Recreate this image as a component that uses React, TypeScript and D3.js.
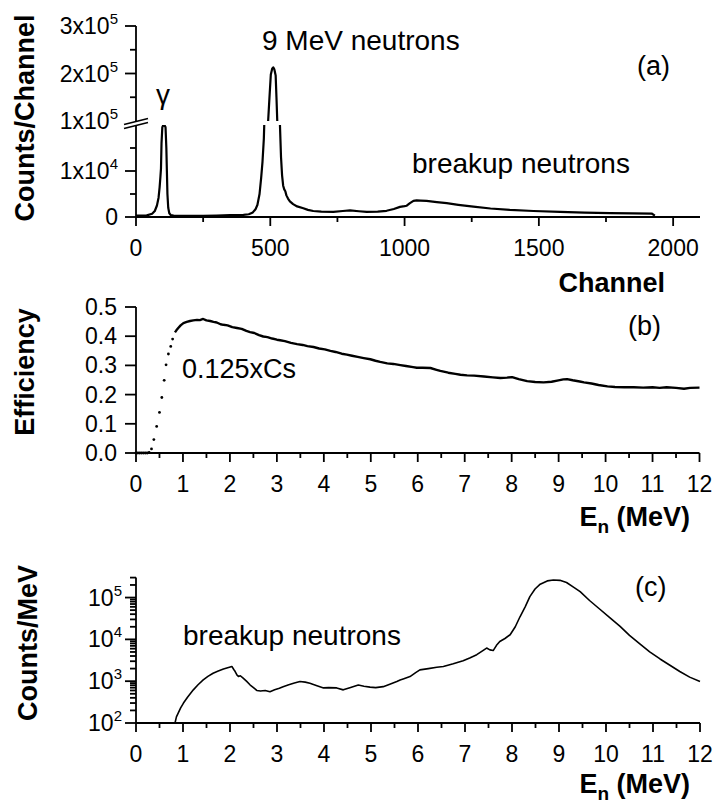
import React from 'react';
import * as d3 from 'd3';

const FONT = "'Liberation Sans', Arial, Helvetica, sans-serif";

// ---------- Panel (a): counts per channel ----------
const channelA = [0, 20, 40, 60, 70, 78, 84, 88, 91, 93, 95, 98, 102, 106, 110, 113, 115, 117, 120, 124, 130, 140, 170, 200, 250, 300, 350, 400, 420, 435, 445, 452, 460, 466, 471, 476, 480, 486, 492, 497, 502, 507, 511, 515, 520, 523, 526, 530, 533, 536, 540, 544, 548, 552, 556, 560, 566, 573, 585, 600, 623, 640, 660, 690, 735, 770, 797, 830, 859, 900, 933, 960, 983, 1000, 1008, 1020, 1033, 1045, 1060, 1082, 1120, 1157, 1200, 1256, 1320, 1392, 1480, 1579, 1670, 1765, 1850, 1920, 1932];
const countsA = [300, 300, 350, 700, 1300, 2500, 4200, 6500, 8800, 10500, 16000, 19500, 20000, 20000, 19500, 15000, 10000, 5000, 2000, 800, 400, 300, 250, 250, 250, 300, 400, 450, 600, 1000, 1700, 2600, 5000, 8500, 12000, 17000, 25000, 60000, 100000, 150000, 198000, 210000, 213000, 209000, 196000, 150000, 100000, 60000, 30000, 20000, 13000, 9000, 6800, 6000, 5600, 4700, 4000, 3400, 2800, 2300, 1900, 1550, 1300, 1150, 1100, 1300, 1450, 1250, 1100, 1150, 1350, 1750, 2200, 2350, 2450, 3000, 3500, 3600, 3550, 3500, 3250, 3000, 2650, 2250, 1850, 1550, 1300, 1100, 950, 850, 800, 750, 300];
const channelTicks = [0, 500, 1000, 1500, 2000];
const channelMinor = [250, 750, 1250, 1750];
const countsTicksLow = [0, 10000];
const countsTicksHigh = [100000, 200000, 300000];
const countsMinorLow = [5000, 15000];
const countsMinorHigh = [150000, 250000];
const countsLabelBase = ['0', '1x10', '1x10', '2x10', '3x10'];
const countsLabelSup = ['', '4', '5', '5', '5'];

// ---------- Panel (b): efficiency ----------
const energySparseB = [0.0, 0.04, 0.08, 0.12, 0.16, 0.2, 0.24, 0.28, 0.33, 0.38, 0.44, 0.5, 0.55, 0.6, 0.64, 0.69, 0.74, 0.78];
const effSparseB = [0, 0, 0, 0, 0, 0, 0, 0.002, 0.014, 0.046, 0.091, 0.139, 0.19, 0.249, 0.302, 0.339, 0.365, 0.39];
const energyB = [0.83, 0.86, 0.9, 0.95, 1.01, 1.08, 1.15, 1.22, 1.3, 1.36, 1.43, 1.5, 1.58, 1.65, 1.72, 1.8, 1.86, 1.95, 2.05, 2.15, 2.25, 2.35, 2.43, 2.52, 2.62, 2.71, 2.8, 2.9, 3.0, 3.07, 3.17, 3.3, 3.43, 3.55, 3.65, 3.78, 3.9, 4.02, 4.14, 4.25, 4.38, 4.49, 4.6, 4.72, 4.85, 4.99, 5.1, 5.2, 5.35, 5.48, 5.63, 5.75, 5.9, 5.98, 6.1, 6.27, 6.4, 6.48, 6.65, 6.8, 6.91, 7.05, 7.2, 7.41, 7.6, 7.76, 7.9, 8.01, 8.15, 8.33, 8.5, 8.68, 8.85, 8.97, 9.1, 9.18, 9.3, 9.45, 9.54, 9.7, 9.85, 10.04, 10.2, 10.4, 10.6, 10.8, 11.0, 11.15, 11.3, 11.5, 11.67, 11.8, 12.0];
const effB = [0.413, 0.42, 0.428, 0.437, 0.445, 0.449, 0.452, 0.454, 0.456, 0.455, 0.459, 0.454, 0.452, 0.449, 0.447, 0.441, 0.439, 0.437, 0.431, 0.428, 0.425, 0.418, 0.414, 0.411, 0.404, 0.399, 0.397, 0.392, 0.388, 0.386, 0.383, 0.377, 0.373, 0.37, 0.366, 0.363, 0.358, 0.355, 0.35, 0.346, 0.34, 0.337, 0.333, 0.329, 0.325, 0.321, 0.316, 0.312, 0.307, 0.305, 0.301, 0.298, 0.294, 0.292, 0.292, 0.291, 0.285, 0.281, 0.275, 0.271, 0.268, 0.266, 0.265, 0.262, 0.259, 0.257, 0.258, 0.26, 0.253, 0.246, 0.243, 0.242, 0.244, 0.248, 0.252, 0.253, 0.249, 0.245, 0.242, 0.238, 0.233, 0.228, 0.226, 0.225, 0.225, 0.224, 0.225, 0.223, 0.225, 0.223, 0.22, 0.223, 0.224];
const effTicks = [0, 0.1, 0.2, 0.3, 0.4, 0.5];
const energyTicks = [0, 1, 2, 3, 4, 5, 6, 7, 8, 9, 10, 11, 12];
const energyMinor = [0.5, 1.5, 2.5, 3.5, 4.5, 5.5, 6.5, 7.5, 8.5, 9.5, 10.5, 11.5];

// ---------- Panel (c): counts per MeV ----------
const energyC = [0.83, 0.86, 0.9, 0.95, 1.01, 1.1, 1.22, 1.32, 1.43, 1.53, 1.64, 1.75, 1.86, 1.95, 2.04, 2.08, 2.11, 2.15, 2.18, 2.22, 2.28, 2.35, 2.43, 2.5, 2.57, 2.65, 2.75, 2.85, 2.95, 3.05, 3.13, 3.25, 3.37, 3.49, 3.6, 3.7, 3.85, 3.99, 4.1, 4.27, 4.41, 4.55, 4.73, 4.85, 4.98, 5.1, 5.26, 5.4, 5.55, 5.62, 5.7, 5.83, 5.95, 6.04, 6.22, 6.4, 6.54, 6.75, 6.96, 7.1, 7.25, 7.38, 7.46, 7.53, 7.6, 7.67, 7.74, 7.85, 7.96, 8.07, 8.17, 8.28, 8.38, 8.49, 8.6, 8.75, 8.88, 9.02, 9.16, 9.3, 9.45, 9.65, 9.87, 10.08, 10.3, 10.5, 10.72, 10.93, 11.15, 11.36, 11.57, 11.78, 12.0];
const countsC = [100, 140, 175, 230, 300, 420, 620, 820, 1070, 1300, 1550, 1750, 1950, 2100, 2250, 1900, 1700, 1400, 1300, 1350, 1180, 1000, 810, 700, 600, 580, 600, 560, 620, 680, 740, 820, 900, 980, 950, 890, 780, 690, 700, 690, 620, 700, 810, 760, 720, 700, 740, 850, 980, 1070, 1150, 1290, 1600, 1860, 2000, 2150, 2240, 2600, 3100, 3600, 4300, 5400, 6200, 5600, 5400, 7200, 8900, 10500, 12900, 20000, 34700, 60000, 105000, 160000, 209000, 250000, 263000, 258000, 229000, 180000, 138000, 85000, 52500, 33000, 20400, 12500, 7800, 5000, 3400, 2400, 1700, 1250, 980];
const logTicks = [100, 1000, 10000, 100000];
const logLabelSup = ['2', '3', '4', '5'];

export default function App() {
  // scales
  const xA = d3.scaleLinear().domain([0, 2100]).range([136, 700]);
  const yALow = d3.scaleLinear().domain([0, 20000]).range([217, 125]);
  const yAHigh = d3.scaleLinear().domain([100000, 300000]).range([121, 26]);
  const xB = d3.scaleLinear().domain([0, 12]).range([136, 699.5]);
  const yB = d3.scaleLinear().domain([0, 0.5]).range([453, 307]);
  const xC = d3.scaleLinear().domain([0, 12]).range([136, 700]);
  const yC = d3.scaleLog().domain([100, 300000]).range([723, 577.6]);

  const idxA = channelA.map((_, i) => i);
  const lineALow = d3.line<number>().x(i => xA(channelA[i])).y(i => yALow(countsA[i]));
  const lineAHigh = d3.line<number>().x(i => xA(channelA[i])).y(i => yAHigh(countsA[i]));
  const lineB = d3.line<number>().x(i => xB(energyB[i])).y(i => yB(effB[i]));
  const lineC = d3.line<number>().x(i => xC(energyC[i])).y(i => yC(countsC[i]));

  const axisStroke = 1.8;
  const tickFont = 23;
  const supFont = 15;
  const annFont = 28;
  const titleFont = 27;

  const xAxis = (scale: any, y0: number, major: number[], minor: number[], x1: number, labels: string[]) => (
    <g>
      <line x1={136} x2={x1} y1={y0} y2={y0} stroke="#000" strokeWidth={axisStroke} />
      {major.map((t, i) => (
        <g key={'M' + i}>
          <line x1={scale(t)} x2={scale(t)} y1={y0} y2={y0 + 9} stroke="#000" strokeWidth={axisStroke} />
          <text x={scale(t)} y={y0 + 39} textAnchor="middle" fontSize={tickFont}>{labels[i]}</text>
        </g>
      ))}
      {minor.map((t, i) => (
        <line key={'m' + i} x1={scale(t)} x2={scale(t)} y1={y0} y2={y0 + 5} stroke="#000" strokeWidth={axisStroke} />
      ))}
    </g>
  );

  const yTick = (y: number, len: number, key: string) => (
    <line key={key} x1={136 - len} x2={136} y1={y} y2={y} stroke="#000" strokeWidth={axisStroke} />
  );

  const aLabelY = [yALow(0), yALow(10000), yAHigh(100000), yAHigh(200000), yAHigh(300000)];

  const logMinor: number[] = [];
  logTicks.forEach(d => {
    for (let m = 2; m <= 9; m++) {
      if (m * d <= 300000) logMinor.push(m * d);
    }
  });

  return (
    <svg width={717} height={806} style={{ position: 'absolute', left: 0, top: 0, background: '#fff' }} fontFamily={FONT}>
      <rect x={0} y={0} width={717} height={806} fill="#fff" />
      <defs>
        <clipPath id="clipLow"><rect x={130} y={125} width={590} height={110} /></clipPath>
        <clipPath id="clipHigh"><rect x={130} y={0} width={590} height={121} /></clipPath>
      </defs>

      {/* ===== Panel (a) ===== */}
      <g>
        <line x1={136} x2={136} y1={217} y2={26} stroke="#000" strokeWidth={axisStroke} />
        {countsTicksLow.map((t, i) => yTick(yALow(t), 11, 'al' + i))}
        {countsTicksHigh.slice(1).map((t, i) => yTick(yAHigh(t), 11, 'ah' + i))}
        {countsMinorLow.map((t, i) => yTick(yALow(t), 6, 'aml' + i))}
        {countsMinorHigh.map((t, i) => yTick(yAHigh(t), 6, 'amh' + i))}
        {aLabelY.map((y, i) => (
          <text key={'alab' + i} x={118} y={y + 8} textAnchor="end" fontSize={tickFont}>
            {countsLabelBase[i]}
            {countsLabelSup[i] && <tspan dy={-10} fontSize={supFont}>{countsLabelSup[i]}</tspan>}
          </text>
        ))}
        {/* axis break */}
        <polygon points="124,124.5 148,118.5 148,122.5 124,128.5" fill="#fff" />
        <line x1={124} y1={124.5} x2={148} y2={118.5} stroke="#000" strokeWidth={1.8} />
        <line x1={124} y1={128.5} x2={148} y2={122.5} stroke="#000" strokeWidth={1.8} />

        {xAxis(xA, 217, channelTicks, channelMinor, 700, channelTicks.map(String))}

        <path d={lineALow(idxA) || ''} fill="none" stroke="#000" strokeWidth={2.2} strokeLinejoin="round" clipPath="url(#clipLow)" />
        <path d={lineAHigh(idxA) || ''} fill="none" stroke="#000" strokeWidth={2.2} strokeLinejoin="round" clipPath="url(#clipHigh)" />

        <text transform="translate(34,118) rotate(-90)" textAnchor="middle" fontSize={titleFont} fontWeight="bold">Counts/Channel</text>
        <text x={665} y={292} textAnchor="end" fontSize={titleFont} fontWeight="bold">Channel</text>
        <text x={262} y={50} fontSize={annFont}>9 MeV neutrons</text>
        <text x={163} y={104} textAnchor="middle" fontSize={annFont}>γ</text>
        <text x={637} y={75} fontSize={annFont - 1}>(a)</text>
        <text x={412} y={173} fontSize={annFont}>breakup neutrons</text>
      </g>

      {/* ===== Panel (b) ===== */}
      <g>
        <line x1={136} x2={136} y1={453} y2={307} stroke="#000" strokeWidth={axisStroke} />
        {effTicks.map((t, i) => (
          <g key={'bt' + i}>
            {yTick(yB(t), 11, 'bty' + i)}
            <text x={117} y={yB(t) + 8} textAnchor="end" fontSize={tickFont}>{t.toFixed(1)}</text>
          </g>
        ))}
        {xAxis(xB, 453, energyTicks, energyMinor, 699.5, energyTicks.map(String))}
        {energySparseB.map((e, i) => (
          <circle key={'bd' + i} cx={xB(e)} cy={yB(effSparseB[i])} r={1.4} fill="#000" />
        ))}
        <path d={lineB(energyB.map((_, i) => i)) || ''} fill="none" stroke="#000" strokeWidth={2.4} strokeLinejoin="round" />

        <text transform="translate(34,372) rotate(-90)" textAnchor="middle" fontSize={titleFont} fontWeight="bold">Efficiency</text>
        <text x={690} y={526} textAnchor="end" fontSize={titleFont} fontWeight="bold">E<tspan dy={7} fontSize={19}>n</tspan><tspan dy={-7}> (MeV)</tspan></text>
        <text x={628} y={335} fontSize={annFont - 1}>(b)</text>
        <text x={182} y={378} fontSize={annFont - 1}>0.125xCs</text>
      </g>

      {/* ===== Panel (c) ===== */}
      <g>
        <line x1={136} x2={136} y1={723} y2={577.6} stroke="#000" strokeWidth={axisStroke} />
        {logTicks.map((t, i) => (
          <g key={'ct' + i}>
            {yTick(yC(t), 11, 'cty' + i)}
            <text x={122} y={yC(t) + 8} textAnchor="end" fontSize={tickFont}>
              10<tspan dy={-10} fontSize={supFont}>{logLabelSup[i]}</tspan>
            </text>
          </g>
        ))}
        {logMinor.map((t, i) => yTick(yC(t), 6, 'cm' + i))}
        {xAxis(xC, 723, energyTicks, energyMinor, 700, energyTicks.map(String))}
        <path d={lineC(energyC.map((_, i) => i)) || ''} fill="none" stroke="#000" strokeWidth={1.6} strokeLinejoin="round" />

        <text transform="translate(37,643) rotate(-90)" textAnchor="middle" fontSize={titleFont} fontWeight="bold">Counts/MeV</text>
        <text x={690} y={793} textAnchor="end" fontSize={titleFont} fontWeight="bold">E<tspan dy={7} fontSize={19}>n</tspan><tspan dy={-7}> (MeV)</tspan></text>
        <text x={635} y={596} fontSize={annFont - 1}>(c)</text>
        <text x={183} y={645} fontSize={annFont}>breakup neutrons</text>
      </g>
    </svg>
  );
}
